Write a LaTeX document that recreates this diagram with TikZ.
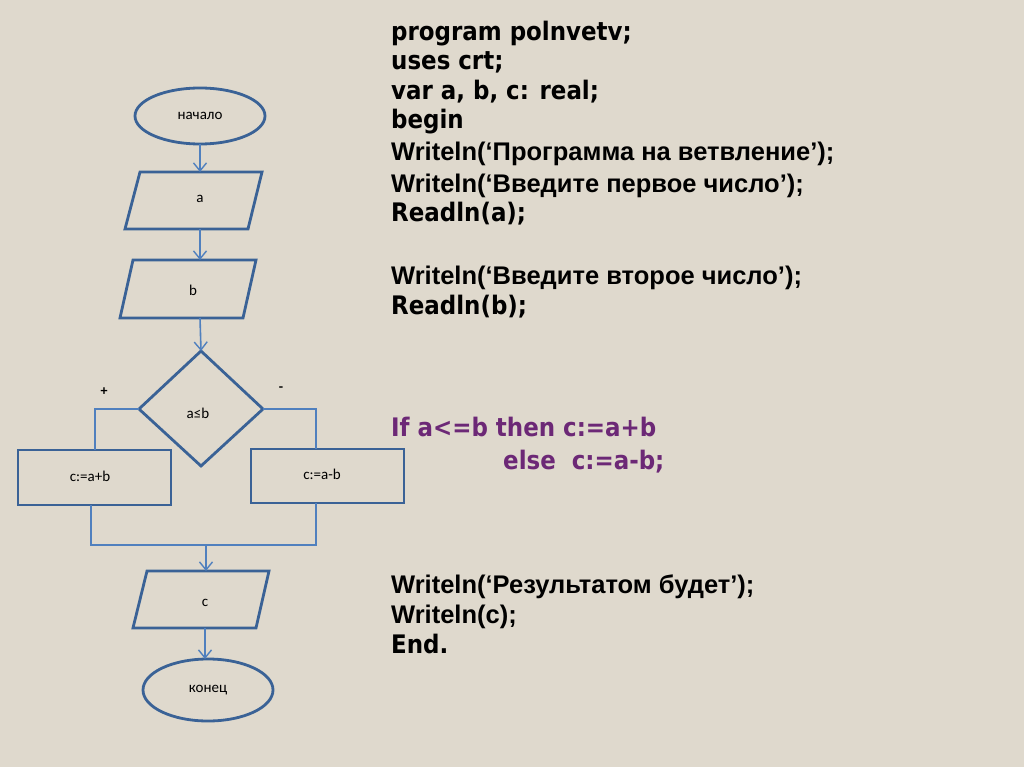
\documentclass[tikz,border=0pt]{standalone}
\usepackage{fontspec}
\setmainfont{Carlito}
\newfontfamily\codefont{DejaVu Sans Condensed}
\newfontfamily\arialfont{Liberation Sans}
\usetikzlibrary{shapes.geometric,arrows.meta}
\definecolor{bg}{RGB}{223,217,205}
\definecolor{shapeblue}{RGB}{58,98,150}
\definecolor{lineblue}{RGB}{80,128,190}
\definecolor{codepurple}{RGB}{108,40,118}
\begin{document}
\begin{tikzpicture}[x=1pt,y=-1pt,
  shapeline/.style={draw=shapeblue,line width=2.8pt,line join=miter},
  conn/.style={draw=lineblue,line width=1.6pt},
  arr/.style={conn,-{Straight Barb[length=8pt,width=13pt,line width=1.4pt]}},
  lbl/.style={font=\fontsize{15}{17}\selectfont,inner sep=0pt},
  codeA/.style={anchor=base west,inner sep=0pt,font=\codefont\bfseries\fontsize{25.5}{28}\selectfont},
  codeB/.style={anchor=base west,inner sep=0pt,font=\arialfont\bfseries\fontsize{25.5}{28}\selectfont}
]
\fill[bg] (0,0) rectangle (1024,767);
\useasboundingbox (0,0) rectangle (1024,767);

% flowchart shapes
\draw[shapeline] (200,116) ellipse [x radius=65,y radius=28];
\node[lbl] (start) at (200,116) {начало};
\coordinate (startB) at (200,144);

\draw[shapeline] (140,172) -- (262,172) -- (248,229) -- (125,229) -- cycle;
\node[lbl] (ina) at (200,199) {a};
\coordinate (inaT) at (200,172);
\coordinate (inaB) at (200,229);

\draw[shapeline] (133,260) -- (256,260) -- (243,318) -- (120,318) -- cycle;
\node[lbl] (inb) at (193,290) {b};
\coordinate (inbT) at (200,260);
\coordinate (inbB) at (200,318);

\draw[shapeline] (201,351) -- (263,409) -- (201,466) -- (139,409) -- cycle;
\node[lbl] (cond) at (198,413) {a≤b};
\coordinate (condT) at (201,351);
\coordinate (condL) at (139,409);
\coordinate (condR) at (263,409);

\node[lbl,font=\bfseries\fontsize{14}{16}\selectfont] (plus) at (104,392) {+};
\node[lbl,font=\bfseries\fontsize{14}{16}\selectfont] (minus) at (281,389) {-};

\draw[shapeline] (18,450) rectangle (171,505);
\node[lbl] (sum) at (90,476) {c:=a+b};
\coordinate (sumT) at (95,450);
\coordinate (sumB) at (91,505);

\draw[shapeline] (251,449) rectangle (404,503);
\node[lbl] (diff) at (322,474) {c:=a-b};
\coordinate (diffT) at (316,449);
\coordinate (diffB) at (316,503);

\coordinate (joinL) at (91,545);
\coordinate (joinR) at (316,545);
\coordinate (joinM) at (206,545);

\draw[shapeline] (147,571) -- (269,571) -- (256,628) -- (133,628) -- cycle;
\node[lbl] (outc) at (205,603) {c};
\coordinate (outcT) at (206,571);
\coordinate (outcB) at (205,628);

\draw[shapeline] (208,690) ellipse [x radius=65,y radius=31];
\node[lbl] (finish) at (208,690) {конец};
\coordinate (finishT) at (205,659);

% connectors
\draw[arr] (startB) -- (inaT);
\draw[arr] (inaB) -- (inbT);
\draw[arr] (inbB) -- (condT);
\draw[conn] (condL) -- (95,409) -- (sumT);
\draw[conn] (condR) -- (316,409) -- (diffT);
\draw[conn] (sumB) -- (joinL) -- (joinR) -- (diffB);
\draw[arr] (joinM) -- (outcT);
\draw[arr] (outcB) -- (finishT);

% program text
\node[codeA] (l1) at (391,41) {program polnvetv;};
\node[codeA] (l2) at (391,70) {uses crt;};
\node[codeA] (l3) at (391,100) {var a, b, c: real;};
\node[codeA] (l4) at (391,129) {begin};
\node[codeB] (l5) at (391,161) {Writeln(‘Программа на ветвление’);};
\node[codeB] (l6) at (391,193) {Writeln(‘Введите первое число’);};
\node[codeA] (l7) at (391,222) {Readln(a);};
\node[codeB] (l8) at (391,284) {Writeln(‘Введите второе число’);};
\node[codeA] (l9) at (391,314) {Readln(b);};
\node[codeA,text=codepurple] (l10) at (391,436) {If a<=b then c:=a+b};
\node[codeA,text=codepurple] (l11) at (503,469) {else\ \ c:=a-b;};
\node[codeB] (l12) at (391,593) {Writeln(‘Результатом будет’);};
\node[codeB] (l13) at (391,623) {Writeln(c);};
\node[codeA] (l14) at (391,653) {End.};
\end{tikzpicture}
\end{document}
